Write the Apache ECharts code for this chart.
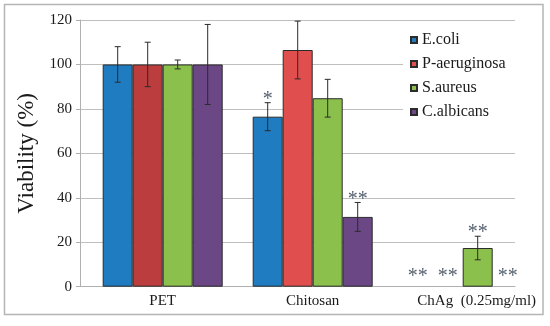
<!DOCTYPE html>
<html>
<head>
<meta charset="utf-8">
<script src="https://cdn.jsdelivr.net/npm/echarts@6/dist/echarts.min.js"></script>
<style>html,body{margin:0;padding:0;background:#fff}#c{width:550px;height:326px}</style>
</head>
<body>
<div id="c"></div>
<script>
const categories = ['PET', 'Chitosan', 'ChAg  (0.25mg/ml)'];
const seriesNames = ['E.coli', 'P-aeruginosa', 'S.aureus', 'C.albicans'];
const ecoli = [100, 76.5, 0];
const ecoliErr = [8, 6.3, 0];
const ecoliSig = ['', '*', '**'];
const paer = [100, 106.5, 0];
const paerErr = [10, 13, 0];
const paerSig = ['', '', '**'];
const saur = [100, 84.8, 17.4];
const saurErr = [2, 8.5, 5.3];
const saurSig = ['', '', '**'];
const calb = [100, 31.4, 0];
const calbErr = [18, 6.5, 0];
const calbSig = ['', '**', '**'];
const yMin = 0, yMax = 120, yStep = 20;

const values = [ecoli, paer, saur, calb];
const errs = [ecoliErr, paerErr, saurErr, calbErr];
const sigs = [ecoliSig, paerSig, saurSig, calbSig];
const colors = ['#1f7cc0', '#e04e4e', '#8cc04c', '#6b4785'];
const petRed = '#bb3d3d';
const FONT = "'Liberation Serif','Times New Roman',serif";

const chart = echarts.init(document.getElementById('c'), null, {renderer: 'canvas'});

const barSeries = values.map((arr, k) => ({
  type: 'bar',
  name: seriesNames[k],
  xAxisIndex: 1, yAxisIndex: 1,
  barGap: '0%', barCategoryGap: '20%',
  itemStyle: {color: colors[k], borderColor: '#2b2b2b', borderWidth: 1},
  data: arr.map((v, i) => {
    const it = {value: v};
    if (v === 0) it.itemStyle = {borderWidth: 0};
    if (k === 1 && i === 0) it.itemStyle = {color: petRed};
    return it;
  }),
  z: 2
}));

const errSeries = values.map((arr, k) => ({
  type: 'custom',
  xAxisIndex: 1, yAxisIndex: 1,
  z: 5,
  data: arr.map((v, i) => [i, v, errs[k][i], i]),
  renderItem: function (params, api) {
    const ci = api.value(0);
    const v = api.value(1);
    const e = api.value(2);
    const band = api.size([1, 0])[0];
    const bw = band * 0.8 / 4;
    const base = api.coord([ci, v]);
    const cx = base[0] + (k - 1.5) * bw;
    const top = api.coord([ci, v + e])[1];
    const bot = api.coord([ci, v - e])[1];
    const children = [];
    const ls = {stroke: '#2b2b2b', lineWidth: 1};
    if (e > 0) {
      children.push({type: 'line', shape: {x1: cx, y1: top, x2: cx, y2: bot}, style: ls});
      children.push({type: 'line', shape: {x1: cx - 3, y1: top, x2: cx + 3, y2: top}, style: ls});
      children.push({type: 'line', shape: {x1: cx - 3, y1: bot, x2: cx + 3, y2: bot}, style: ls});
    }
    const s = sigs[k][ci];
    if (s) {
      const lift = v === 0 ? 0 : 7;
      children.push({type: 'text', style: {text: s, x: cx, y: top + lift, align: 'center', verticalAlign: 'bottom',
        fill: '#56626e', font: '20px ' + FONT}});
    }
    return {type: 'group', children: children};
  }
}));

chart.setOption({
  animation: false,
  backgroundColor: '#fff',
  graphic: [{type: 'rect', shape: {x: 4.5, y: 4.5, width: 538.5, height: 310}, style: {fill: 'none', stroke: '#b5b5b5', lineWidth: 1.5}, z: -1}],
  grid: [
    {left: 80, right: 35, top: 20, bottom: 39.3},
    {left: 87.7, right: 12.3, top: 20, bottom: 39.3}
  ],
  legend: {
    data: seriesNames,
    orient: 'vertical',
    left: 403, top: 26,
    backgroundColor: '#fff',
    padding: [6, 14, 14, 7],
    icon: 'rect', itemWidth: 6, itemHeight: 6, itemGap: 8,
    textStyle: {fontFamily: FONT, fontSize: 16, color: '#1a1a1a', padding: [0, 0, 0, 0]},
    z: 10
  },
  xAxis: [
    {gridIndex: 0, type: 'category', data: categories, axisLine: {lineStyle: {color: '#b0b0b0'}}, axisTick: {show: false}, axisLabel: {show: false}},
    {gridIndex: 1, type: 'category', data: categories.map((c, i) => i === 2 ? {value: c, textStyle: {padding: [0, 0, 0, 28]}} : c),
      axisLine: {show: false}, axisTick: {show: false},
      axisLabel: {interval: 0, hideOverlap: false, fontFamily: FONT, fontSize: 15, color: '#1a1a1a', margin: 7}}
  ],
  yAxis: [
    {gridIndex: 0, type: 'value', min: yMin, max: yMax, interval: yStep,
      name: 'Viability (%)', nameLocation: 'middle', nameGap: 42,
      nameTextStyle: {fontFamily: FONT, fontSize: 23, color: '#1a1a1a'},
      axisLine: {show: true, lineStyle: {color: '#b0b0b0'}},
      axisTick: {show: true, length: 4, lineStyle: {color: '#b0b0b0'}},
      axisLabel: {fontFamily: FONT, fontSize: 15, color: '#1a1a1a', margin: 8},
      splitLine: {lineStyle: {color: '#bfbfbf'}}},
    {gridIndex: 1, type: 'value', min: yMin, max: yMax, interval: yStep, show: false, splitLine: {show: false}}
  ],
  series: barSeries.concat(errSeries)
});
</script>
</body>
</html>
